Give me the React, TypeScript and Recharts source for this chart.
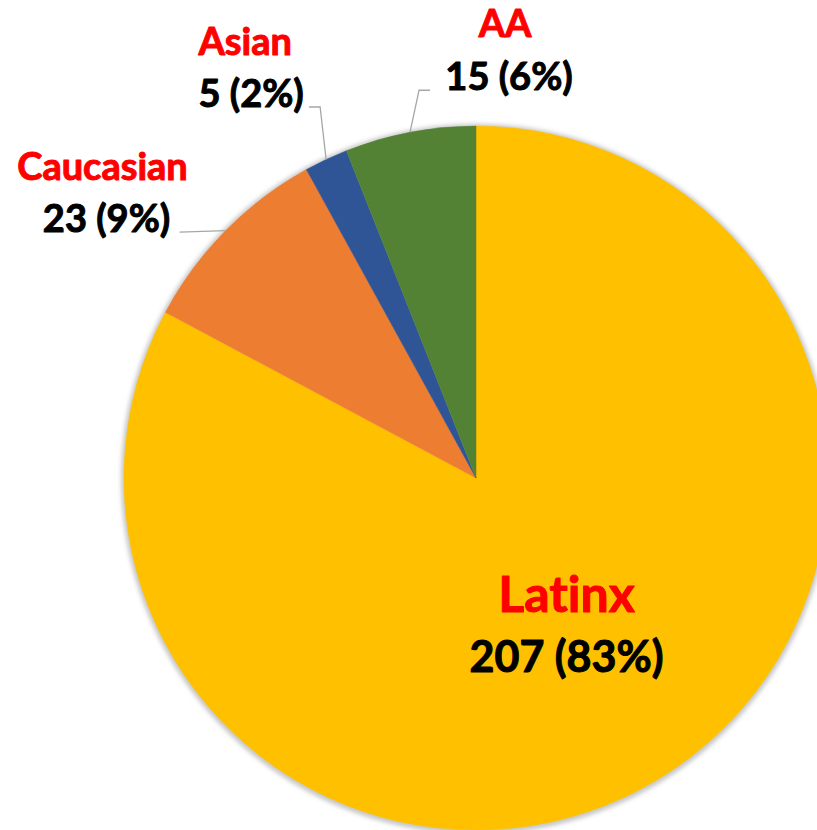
import React from 'react';
import { PieChart, Pie, Cell } from 'recharts';

const categories = ['Latinx', 'Caucasian', 'Asian', 'AA'];
const counts = [207, 23, 5, 15];
const percentLabels = [83, 9, 2, 6];
const colors = ['#FFC000', '#ED7D31', '#2F5597', '#548235'];

const data = categories.map((name, i) => ({ name, value: counts[i], pct: percentLabels[i] }));
const total = counts.reduce((a, b) => a + b, 0);
const ringData = [{ name: 'all', value: total }];

// label layout: offsets relative to the slice's rim point (outside labels) or polar position (inside)
type Layout = {
  inside?: boolean;
  line?: [number, number][];
  nameOff: [number, number];
  valueOff: [number, number];
};
const layouts: Layout[] = [
  { inside: true, nameOff: [0, -17], valueOff: [0, 43] },
  { line: [[-46, 1.5]], nameOff: [-123, -50.5], valueOff: [-119, 1.5] },
  { line: [[-6, -52.5], [-17, -52.5]], nameOff: [-81, -104.5], valueOff: [-75, -52.5] },
  { line: [[9, -42], [20, -42]], nameOff: [95, -95], valueOff: [99, -42] },
];

const RAD = Math.PI / 180;
const FONT = 'Lato, "Open Sans", sans-serif';
const textStyle: React.CSSProperties = { fontVariantLigatures: 'none', fontFeatureSettings: '"liga" 0' };

const Label2 = ({ x, y, fill, size, children }: any) => (
  <text x={x} y={y} textAnchor="middle" fill={fill} stroke={fill} strokeWidth={1} strokeLinejoin="round" fontFamily={FONT} fontWeight={700} fontSize={size} style={textStyle}>
    {children}
  </text>
);

const renderLabel = (props: any) => {
  const { cx, cy, midAngle, outerRadius, index, payload } = props;
  const lay = layouts[index];
  const ang = -midAngle * RAD;
  if (lay.inside) {
    const r = outerRadius * 0.5;
    const x = cx + r * Math.cos(ang);
    const y = cy + r * Math.sin(ang);
    return (
      <g>
        <Label2 x={x + lay.nameOff[0]} y={y + lay.nameOff[1]} fill="#FF0000" size={50}>{payload.name}</Label2>
        <Label2 x={x + lay.valueOff[0]} y={y + lay.valueOff[1]} fill="#000000" size={43}>{`${payload.value} (${payload.pct}%)`}</Label2>
      </g>
    );
  }
  const x0 = cx + outerRadius * Math.cos(ang);
  const y0 = cy + outerRadius * Math.sin(ang);
  const pts = [[x0, y0], ...(lay.line || []).map(([dx, dy]) => [x0 + dx, y0 + dy])];
  return (
    <g>
      <polyline points={pts.map((p) => p.join(',')).join(' ')} fill="none" stroke="#A6A6A6" strokeWidth={1.3} />
      <Label2 x={x0 + lay.nameOff[0]} y={y0 + lay.nameOff[1]} fill="#FF0000" size={38}>{payload.name}</Label2>
      <Label2 x={x0 + lay.valueOff[0]} y={y0 + lay.valueOff[1]} fill="#000000" size={38}>{`${payload.value} (${payload.pct}%)`}</Label2>
    </g>
  );
};

export default function App() {
  return (
    <div style={{ position: 'absolute', left: 0, top: 0, width: 817, height: 830, background: '#fff', overflow: 'hidden' }}>
      <PieChart width={817} height={830} margin={{ top: 0, right: 0, bottom: 0, left: 0 }}>
        <defs>
          <filter id="rimBlur" x="-10%" y="-10%" width="120%" height="120%">
            <feGaussianBlur stdDeviation="2" />
          </filter>
        </defs>
        <Pie
          data={ringData}
          dataKey="value"
          cx={476}
          cy={479}
          outerRadius={355}
          innerRadius={346}
          startAngle={90}
          endAngle={-270}
          stroke="none"
          isAnimationActive={false}
          label={false}
          labelLine={false}
        >
          <Cell fill="#C8C8C8" filter="url(#rimBlur)" />
        </Pie>
        <Pie
          data={data}
          dataKey="value"
          nameKey="name"
          cx={476}
          cy={478}
          outerRadius={352}
          startAngle={90}
          endAngle={-270}
          isAnimationActive={false}
          label={renderLabel}
          labelLine={false}
        >
          {data.map((d, i) => (
            <Cell key={d.name} fill={colors[i]} stroke={colors[i]} strokeWidth={0.5} />
          ))}
        </Pie>
      </PieChart>
    </div>
  );
}
